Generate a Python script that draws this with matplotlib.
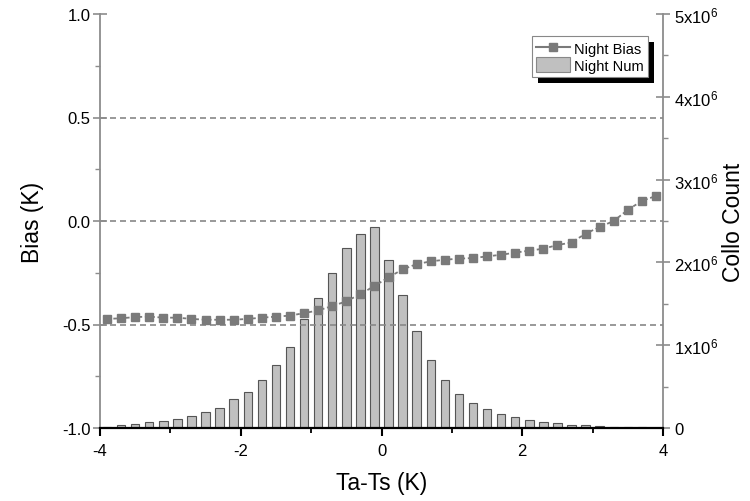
import matplotlib
matplotlib.use("Agg")
import matplotlib.pyplot as plt
import matplotlib.patches as mpatches
from matplotlib.lines import Line2D
import numpy as np

plt.rcParams['font.family'] = ['Liberation Sans', 'DejaVu Sans']
plt.rcParams['axes.unicode_minus'] = False

# bin centres of Ta-Ts (K)
x_centres = [-3.9, -3.7, -3.5, -3.3, -3.1, -2.9, -2.7, -2.5, -2.3, -2.1,
             -1.9, -1.7, -1.5, -1.3, -1.1, -0.9, -0.7, -0.5, -0.3, -0.1,
             0.1, 0.3, 0.5, 0.7, 0.9, 1.1, 1.3, 1.5, 1.7, 1.9,
             2.1, 2.3, 2.5, 2.7, 2.9, 3.1, 3.3, 3.5, 3.7, 3.9]

# night bias (K)
night_bias = [-0.473, -0.470, -0.464, -0.462, -0.467, -0.467, -0.473, -0.477, -0.477, -0.477,
              -0.473, -0.467, -0.462, -0.457, -0.445, -0.432, -0.411, -0.388, -0.353, -0.314,
              -0.272, -0.234, -0.208, -0.195, -0.187, -0.182, -0.179, -0.171, -0.163, -0.153,
              -0.143, -0.134, -0.116, -0.104, -0.061, -0.029, 0.000, 0.054, 0.097, 0.121]

# night collocation count (x 1e6)
night_num = [0.016, 0.032, 0.048, 0.068, 0.080, 0.109, 0.145, 0.189, 0.245, 0.346,
             0.431, 0.576, 0.757, 0.978, 1.313, 1.566, 1.876, 2.174, 2.339, 2.428,
             2.029, 1.606, 1.168, 0.817, 0.580, 0.415, 0.302, 0.229, 0.169, 0.129,
             0.097, 0.068, 0.056, 0.036, 0.032, 0.024, 0.016, 0.016, 0.008, 0.005]

bias_ticks = [-1.0, -0.5, 0.0, 0.5, 1.0]
count_ticks = [0, 1, 2, 3, 4, 5]
count_labels = ['0'] + [r'$\mathregular{%dx10^{6}}$' % c for c in count_ticks[1:]]
x_ticks = [-4, -2, 0, 2, 4]

line_col = '#7a7a7a'
spine_col = '#8c8c8c'

fig = plt.figure(figsize=(7.5, 5.02), dpi=100)
ax = fig.add_axes([100/750, 73/502, 563/750, 414/502])
ax2 = ax.twinx()

# bars on the right axis
ax2.bar(x_centres, np.array(night_num) * 1e6, width=0.12, color='#c0c0c0',
        edgecolor='#555555', linewidth=0.8)
ax2.set_ylim(0, 5e6)
ax2.set_yticks([c * 1e6 for c in count_ticks])
ax2.set_yticklabels(count_labels)
ax2.set_yticks([c * 1e6 + 0.5e6 for c in count_ticks[:-1]], minor=True)
ax2.set_ylabel('Collo Count', fontsize=16.5, labelpad=3)

# put bias axis on top
ax.set_zorder(ax2.get_zorder() + 1)
ax.patch.set_visible(False)

for yv in [-0.5, 0.0, 0.5]:
    ax.axhline(yv, color='#888888', lw=1.2, linestyle=(0, (3.6, 2.4)), zorder=1)

ax.plot(x_centres, night_bias, color=line_col, lw=1.3, linestyle=(0, (2, 1.5)),
        marker='s', markersize=6, markerfacecolor=line_col, markeredgecolor=line_col,
        zorder=3)

ax.set_xlim(-4, 4)
ax.set_ylim(-1.0, 1.0)
ax.set_xticks(x_ticks)
ax.set_xticks([-3, -1, 1, 3], minor=True)
ax.set_yticks(bias_ticks)
ax.set_yticks([-0.75, -0.25, 0.25, 0.75], minor=True)
ax.set_yticklabels(['%.1f' % v for v in bias_ticks])
ax.set_xlabel('Ta-Ts (K)', fontsize=16.5, labelpad=9)
ax.set_ylabel('Bias (K)', fontsize=16.5, labelpad=13)

# spines and ticks
for a in (ax, ax2):
    a.spines['top'].set_visible(False)
ax.spines['bottom'].set_color('black')
ax.spines['bottom'].set_linewidth(1.6)
ax.spines['left'].set_color(spine_col)
ax.spines['left'].set_linewidth(1.3)
ax.spines['right'].set_visible(False)
ax2.spines['right'].set_color(spine_col)
ax2.spines['right'].set_linewidth(1.3)
ax2.spines['left'].set_visible(False)
ax2.spines['bottom'].set_visible(False)

ax.tick_params(axis='x', which='major', direction='out', length=6, width=1.5,
               color='black', labelsize=12, pad=5)
ax.tick_params(axis='x', which='minor', direction='out', length=3.5, width=1.3, color='black')
ax.tick_params(axis='y', which='major', direction='inout', length=10, width=1.2,
               color=spine_col, labelsize=12, pad=2)
ax.tick_params(axis='y', which='minor', direction='out', length=3.5, width=1.0, color=spine_col)
ax2.tick_params(axis='y', which='major', direction='inout', length=10, width=1.2,
                color=spine_col, labelsize=12, pad=3)
ax2.tick_params(axis='y', which='minor', direction='out', length=3.5, width=1.0, color=spine_col)

# legend with hard black shadow
bias_handle = Line2D([], [], color=line_col, lw=1.5, marker='s', markersize=6,
                     markerfacecolor=line_col, markeredgecolor=line_col)
num_handle = mpatches.Patch(facecolor='#c0c0c0', edgecolor='#888888', linewidth=0.8)
leg = ax.legend([bias_handle, num_handle], ['Night Bias', 'Night Num'],
                loc='upper right', bbox_to_anchor=(0.9734, 0.947),
                borderaxespad=0, fontsize=10.5, frameon=True, fancybox=False,
                edgecolor='#888888', framealpha=1, handlelength=2.3,
                handleheight=1.2, labelspacing=0.1, borderpad=0.3, handletextpad=0.3)
leg.get_frame().set_linewidth(0.8)
leg.set_zorder(10)

fig.canvas.draw()
bb = leg.get_window_extent()
shadow = mpatches.Rectangle((bb.x0 + 6, bb.y0 - 6), bb.width, bb.height,
                            transform=None, facecolor='black', edgecolor='none',
                            zorder=9)
ax.add_artist(shadow)

fig.savefig('out.png', dpi=100)
